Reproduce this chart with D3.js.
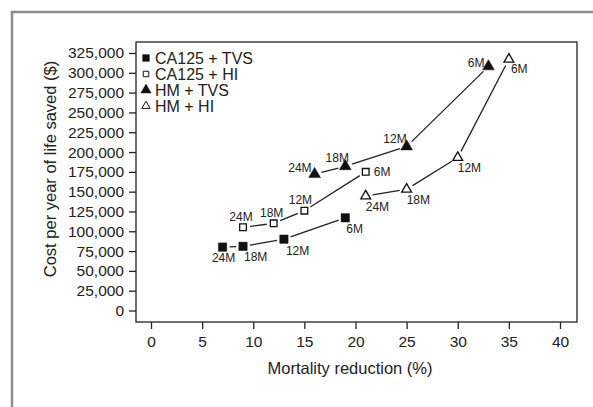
<!DOCTYPE html>
<html>
<head>
<meta charset="utf-8">
<script src="https://cdn.jsdelivr.net/npm/d3@7"></script>
<style>
  body { margin: 0; background: #fff; }
  svg text { font-family: "Liberation Sans", Arial, sans-serif; fill: #222; }
</style>
</head>
<body>
<div id="chart"></div>
<script>
// --- Data ---
const seriesNames = ["CA125 + TVS", "CA125 + HI", "HM + TVS", "HM + HI"];
const intervalLabels = ["24M", "18M", "12M", "6M"];

const ca125TvsX = [7, 9, 13, 19];
const ca125TvsY = [80000, 81000, 90000, 117000];
const ca125HiX = [9, 12, 15, 21];
const ca125HiY = [105000, 110000, 126000, 175000];
const hmTvsX = [16, 19, 25, 33];
const hmTvsY = [172000, 182000, 207000, 308000];
const hmHiX = [21, 25, 30, 35];
const hmHiY = [144500, 153000, 193000, 317000];

const xTicks = [0, 5, 10, 15, 20, 25, 30, 35, 40];
const yTicks = [0, 25000, 50000, 75000, 100000, 125000, 150000, 175000,
  200000, 225000, 250000, 275000, 300000, 325000];

// label placement per point: [dx, dy, anchor]
const labelPos = [
  [[1, 15, "middle"], [1, 15, "start"], [2, 16, "start"], [1, 15, "start"]],
  [[-2, -6, "middle"], [-2, -6, "middle"], [-4, -7, "middle"], [8, 4, "start"]],
  [[-3, -2, "end"], [-8, -4, "middle"], [0, -3, "end"], [-4, 1, "end"]],
  [[0, 15, "start"], [0, 15, "start"], [0, 14, "start"], [2, 14, "start"]]
];

const series = [
  { name: seriesNames[0], xs: ca125TvsX, ys: ca125TvsY, shape: d3.symbolSquare, filled: true },
  { name: seriesNames[1], xs: ca125HiX, ys: ca125HiY, shape: d3.symbolSquare, filled: false },
  { name: seriesNames[2], xs: hmTvsX, ys: hmTvsY, shape: d3.symbolTriangle, filled: true },
  { name: seriesNames[3], xs: hmHiX, ys: hmHiY, shape: d3.symbolTriangle, filled: false }
];

// --- Dimensions ---
const W = 593, H = 407;
const box = { left: 136, right: 577, top: 42, bottom: 322 };

const svg = d3.select("#chart").append("svg")
  .attr("width", W)
  .attr("height", H);

svg.append("rect").attr("width", W).attr("height", H).attr("fill", "#fff");

// outer grey frame
svg.append("rect")
  .attr("x", 12).attr("y", 12)
  .attr("width", W + 20).attr("height", H + 20)
  .attr("fill", "none")
  .attr("stroke", "#8c8c8c")
  .attr("stroke-width", 2.5);

// --- Scales ---
const x = d3.scaleLinear().domain([0, 40]).range([151, 560]);
const y = d3.scaleLinear().domain([0, 325000]).range([310.5, 53]);

// plot box
svg.append("rect")
  .attr("x", box.left).attr("y", box.top)
  .attr("width", box.right - box.left).attr("height", box.bottom - box.top)
  .attr("fill", "none")
  .attr("stroke", "#222")
  .attr("stroke-width", 1.3);

// --- Axes ---
const xAxis = svg.append("g")
  .attr("transform", `translate(0,${box.bottom})`)
  .call(d3.axisBottom(x).tickValues(xTicks).tickSize(7).tickPadding(7).tickSizeOuter(0));
xAxis.select(".domain").remove();

const yAxis = svg.append("g")
  .attr("transform", `translate(${box.left},0)`)
  .call(d3.axisLeft(y).tickValues(yTicks).tickSize(7).tickPadding(5)
    .tickFormat(d3.format(",")));
yAxis.select(".domain").remove();

svg.selectAll(".tick line").attr("stroke", "#222").attr("stroke-width", 1.3);
svg.selectAll(".tick text")
  .style("font-size", "15.5px")
  .style("font-family", "Liberation Sans, Arial, sans-serif")
  .attr("fill", "#222");

// --- Axis titles ---
svg.append("text")
  .attr("x", 350)
  .attr("y", 374)
  .attr("text-anchor", "middle")
  .style("font-size", "16.5px")
  .text("Mortality reduction (%)");

svg.append("text")
  .attr("transform", "rotate(-90)")
  .attr("x", -169)
  .attr("y", 56)
  .attr("text-anchor", "middle")
  .style("font-size", "16.5px")
  .text("Cost per year of life saved ($)");

// --- Lines (with a small gap around each marker) ---
const gap = 7;
series.forEach((s, si) => {
  const pts = s.xs.map((v, i) => [x(v), y(s.ys[i])]);
  for (let i = 0; i < pts.length - 1; i++) {
    const [x1, y1] = pts[i], [x2, y2] = pts[i + 1];
    const len = Math.hypot(x2 - x1, y2 - y1);
    const ux = (x2 - x1) / len, uy = (y2 - y1) / len;
    svg.append("line")
      .attr("x1", x1 + ux * gap).attr("y1", y1 + uy * gap)
      .attr("x2", x2 - ux * gap).attr("y2", y2 - uy * gap)
      .attr("stroke", "#222")
      .attr("stroke-width", 1.3);
  }

  // markers
  const sym = d3.symbol().type(s.shape).size(s.shape === d3.symbolSquare ? (s.filled ? 70 : 45) : (s.filled ? 60 : 42));
  svg.selectAll(null)
    .data(pts)
    .enter()
    .append("path")
    .attr("d", sym)
    .attr("transform", d => `translate(${d[0]},${d[1]})`)
    .attr("fill", s.filled ? "#111" : "#fff")
    .attr("stroke", "#111")
    .attr("stroke-width", s.filled ? 0.5 : 1.3);

  // point labels
  svg.selectAll(null)
    .data(pts)
    .enter()
    .append("text")
    .attr("x", (d, i) => d[0] + labelPos[si][i][0])
    .attr("y", (d, i) => d[1] + labelPos[si][i][1])
    .attr("text-anchor", (d, i) => labelPos[si][i][2])
    .style("font-size", "12px")
    .text((d, i) => intervalLabels[i]);
});

// --- Legend ---
const legend = svg.selectAll(".legend")
  .data(series)
  .enter()
  .append("g")
  .attr("class", "legend")
  .attr("transform", (d, i) => `translate(146, ${58 + i * 16})`);

legend.append("path")
  .attr("d", d => d3.symbol().type(d.shape).size(d.filled ? 45 : 30)())
  .attr("fill", d => d.filled ? "#111" : "#fff")
  .attr("stroke", "#111")
  .attr("stroke-width", d => d.filled ? 0.5 : 1);

legend.append("text")
  .attr("x", 9)
  .attr("y", 5.5)
  .style("font-size", "16px")
  .text(d => d.name);
</script>
</body>
</html>
